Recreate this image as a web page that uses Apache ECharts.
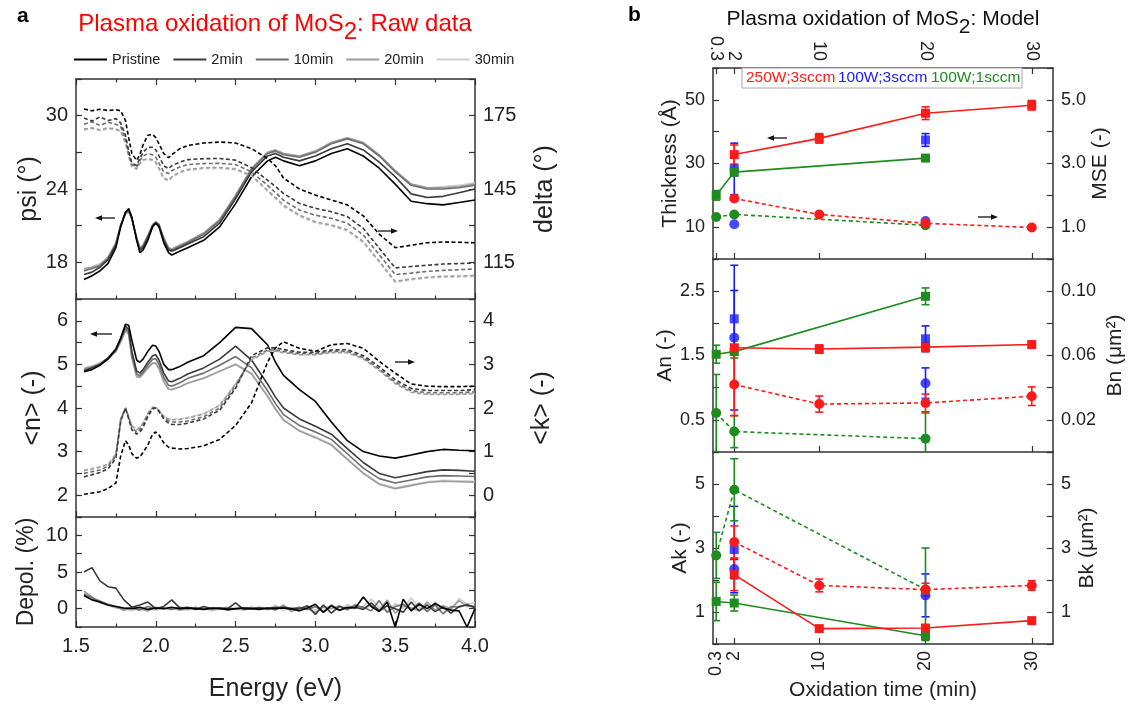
<!DOCTYPE html>
<html><head><meta charset="utf-8">
<script src="https://cdn.jsdelivr.net/npm/echarts@6/dist/echarts.min.js"></script>
<style>html,body{margin:0;padding:0;background:#fff}#c{width:1134px;height:709px}</style>
</head><body><div id="c"></div>
<script>
// ---------------- DATA: panel a (raw data) ----------------
const energy = [1.55,1.60,1.65,1.70,1.75,1.78,1.81,1.83,1.85,1.88,1.90,1.92,1.95,1.98,2.00,2.02,2.05,2.08,2.10,2.15,2.20,2.30,2.40,2.50,2.60,2.70,2.75,2.80,2.90,3.00,3.10,3.20,3.30,3.40,3.50,3.60,3.70,3.80,3.90,4.00];
const sampleNames = ['Pristine','2min','10min','20min','30min'];

const psiPristine = [16.6,16.9,17.3,17.9,19.2,20.9,22.1,22.4,21.7,19.8,18.8,19.0,19.8,20.9,21.2,20.9,19.6,18.8,18.6,18.9,19.2,19.8,20.9,22.8,25.0,26.3,26.6,26.3,25.9,26.3,26.9,27.3,26.7,25.7,24.4,23.0,22.8,22.7,22.9,23.1];
const psi2min = [17.0,17.2,17.6,18.2,19.4,21.0,22.1,22.3,21.6,19.9,19.0,19.2,20.0,21.0,21.2,21.0,19.8,19.0,18.9,19.2,19.5,20.1,21.2,23.2,25.4,26.7,26.9,26.6,26.3,26.7,27.3,27.7,27.2,26.2,25.0,23.6,23.3,23.4,23.7,24.0];
const psi10min = [17.3,17.5,17.7,18.3,19.5,21.0,22.0,22.2,21.6,20.0,19.1,19.3,20.1,21.0,21.3,21.1,19.9,19.1,19.0,19.3,19.6,20.3,21.4,23.4,25.6,26.9,27.1,26.8,26.6,27.0,27.7,28.1,27.7,26.7,25.4,24.3,24.0,24.0,24.1,24.3];
const psi20min = [17.5,17.6,17.8,18.4,19.6,21.1,22.0,22.2,21.5,20.0,19.2,19.4,20.2,21.1,21.3,21.1,20.0,19.2,19.1,19.4,19.7,20.4,21.5,23.5,25.7,27.0,27.2,26.9,26.7,27.1,27.8,28.2,27.8,26.8,25.5,24.4,24.1,24.1,24.2,24.4];
const psi30min = [17.4,17.6,17.9,18.4,19.6,21.0,21.9,22.1,21.5,20.1,19.2,19.4,20.2,21.0,21.2,21.0,20.0,19.2,19.1,19.4,19.7,20.4,21.5,23.4,25.6,26.9,27.2,26.9,26.7,27.1,27.8,28.2,27.8,26.8,25.5,24.4,24.1,24.2,24.3,24.5];

const deltaPristine = [177.7,177.0,177.6,177.1,177.4,177.0,173.0,166.0,159.5,156.7,159.0,163.0,167.0,167.3,166.0,163.5,159.5,157.8,159.0,161.5,162.8,163.8,164.2,163.8,161.5,157.5,154.5,149.5,145.0,142.5,140.5,138.5,134.0,126.5,121.0,122.0,123.0,123.3,123.2,123.0];
const delta2min = [174.0,172.8,174.5,173.0,173.8,172.0,167.0,160.5,155.5,154.7,157.5,160.0,162.0,162.1,161.0,158.5,154.5,153.3,154.5,156.0,157.0,157.4,157.5,156.8,153.7,148.6,146.0,143.2,139.1,137.1,135.7,133.7,128.9,120.8,112.7,113.3,113.8,114.3,114.5,114.7];
const delta10min = [171.5,172.5,171.0,172.3,171.5,170.5,165.5,159.5,155.0,154.0,156.5,158.5,159.4,159.0,158.0,155.5,152.0,151.3,152.5,154.0,155.0,155.4,155.5,155.0,152.0,146.5,143.5,140.4,136.4,134.3,133.0,131.0,126.2,118.1,110.0,110.6,111.3,111.7,112.0,112.3];
const delta20min = [169.5,170.0,169.2,170.0,169.5,168.8,164.0,158.5,154.3,153.3,155.5,157.0,157.4,157.0,156.0,153.5,149.5,148.6,150.0,152.0,153.0,153.7,153.8,153.2,150.6,144.5,141.5,138.4,134.3,131.6,130.3,128.3,123.5,115.4,107.2,108.2,108.9,109.3,109.4,109.6];
const delta30min = [169.0,169.8,168.8,169.6,169.0,168.5,163.6,158.2,154.0,153.0,155.2,156.7,157.0,156.6,155.6,153.1,149.0,148.2,149.6,151.6,152.6,153.3,153.4,152.8,150.2,144.0,141.0,137.9,133.8,131.1,129.8,127.8,123.0,115.0,106.8,107.8,108.5,108.9,109.0,109.2];

const nPristine = [4.83,4.88,4.98,5.12,5.35,5.6,5.92,5.9,5.55,5.1,5.05,5.12,5.3,5.44,5.42,5.3,5.0,4.88,4.88,4.95,5.05,5.2,5.5,5.85,5.82,5.45,5.05,4.75,4.42,4.15,3.68,3.25,3.0,2.9,2.85,2.92,3.0,3.05,3.03,3.02];
const n2min = [4.85,4.92,5.0,5.15,5.35,5.6,5.88,5.8,5.3,4.85,4.8,4.88,5.05,5.2,5.22,5.1,4.8,4.62,4.6,4.68,4.78,4.92,5.12,5.42,5.1,4.55,4.25,4.0,3.75,3.58,3.4,3.07,2.75,2.5,2.4,2.47,2.54,2.58,2.57,2.55];
const n10min = [4.87,4.93,5.0,5.13,5.32,5.55,5.82,5.75,5.22,4.78,4.74,4.82,4.98,5.12,5.13,5.0,4.7,4.52,4.5,4.58,4.68,4.8,4.98,5.18,4.92,4.4,4.1,3.85,3.6,3.45,3.28,2.95,2.62,2.38,2.28,2.35,2.42,2.45,2.44,2.43];
const n20min = [4.9,4.95,5.02,5.13,5.3,5.52,5.78,5.7,5.15,4.72,4.7,4.78,4.92,5.03,5.03,4.9,4.6,4.43,4.42,4.48,4.57,4.68,4.84,5.0,4.78,4.27,3.97,3.72,3.47,3.32,3.15,2.82,2.5,2.25,2.15,2.22,2.29,2.32,2.31,2.3];
const n30min = [4.92,4.96,5.03,5.14,5.3,5.5,5.76,5.68,5.14,4.72,4.7,4.78,4.91,5.02,5.02,4.9,4.61,4.44,4.43,4.49,4.58,4.69,4.85,5.01,4.8,4.29,3.99,3.74,3.49,3.34,3.17,2.84,2.52,2.27,2.17,2.24,2.31,2.34,2.33,2.32];

const kPristine = [0.02,0.05,0.08,0.15,0.28,0.9,1.25,1.15,0.95,0.85,0.88,0.98,1.15,1.4,1.45,1.38,1.2,1.1,1.08,1.06,1.07,1.13,1.28,1.6,2.12,3.05,3.38,3.52,3.37,3.3,3.45,3.48,3.37,3.07,2.8,2.55,2.5,2.49,2.49,2.5];
const k2min = [0.42,0.47,0.52,0.6,0.85,1.7,2.0,1.75,1.5,1.4,1.45,1.55,1.8,1.98,2.0,1.92,1.75,1.65,1.62,1.62,1.65,1.75,1.95,2.45,3.2,3.38,3.38,3.34,3.28,3.28,3.33,3.34,3.2,2.95,2.65,2.45,2.4,2.4,2.4,2.42];
const k10min = [0.5,0.54,0.58,0.66,0.9,1.72,2.0,1.78,1.55,1.45,1.5,1.6,1.84,2.0,2.0,1.93,1.78,1.7,1.68,1.68,1.7,1.8,2.0,2.5,3.15,3.33,3.33,3.3,3.25,3.25,3.3,3.3,3.16,2.9,2.6,2.4,2.35,2.35,2.35,2.37];
const k20min = [0.56,0.6,0.64,0.7,0.93,1.75,2.0,1.8,1.58,1.5,1.55,1.65,1.88,2.01,2.0,1.94,1.8,1.74,1.73,1.74,1.77,1.86,2.06,2.55,3.1,3.3,3.3,3.27,3.22,3.22,3.27,3.27,3.13,2.86,2.56,2.36,2.31,2.31,2.31,2.33];
const k30min = [0.58,0.62,0.66,0.72,0.95,1.76,2.0,1.81,1.6,1.52,1.56,1.66,1.89,2.02,2.01,1.95,1.81,1.75,1.74,1.75,1.78,1.87,2.07,2.56,3.11,3.31,3.31,3.28,3.23,3.23,3.28,3.28,3.14,2.87,2.57,2.37,2.32,2.32,2.32,2.34];

const energyDepol = [1.55,1.60,1.65,1.70,1.75,1.80,1.85,1.90,1.95,2.00,2.05,2.10,2.15,2.20,2.25,2.30,2.35,2.40,2.45,2.50,2.55,2.60,2.65,2.70,2.75,2.80,2.85,2.90,2.95,3.00,3.05,3.10,3.15,3.20,3.25,3.30,3.35,3.40,3.45,3.50,3.55,3.60,3.65,3.70,3.75,3.80,3.85,3.90,3.95,4.00];
const depolPristine = [1.8,1.2,0.9,0.5,0.3,0.1,0.0,0.2,-0.1,0.1,0.0,0.2,0.0,0.1,0.0,-0.1,0.1,0.0,-0.1,0.0,0.1,0.0,-0.1,0.1,0.0,0.1,0.0,-0.3,0.1,0.6,-0.5,0.4,-0.2,0.2,0.1,1.6,0.3,-0.4,0.9,-2.5,1.3,-0.3,0.6,0.0,0.7,0.1,-0.2,-0.3,-2.5,0.0];
const depol2min = [5.0,5.6,3.8,3.0,2.8,1.2,0.2,0.5,0.9,0.0,0.3,1.2,0.1,0.2,-0.1,0.3,0.0,0.1,0.0,0.8,-0.1,0.0,0.1,0.0,0.2,0.1,-0.1,0.0,0.4,-0.8,0.5,-0.6,0.3,0.0,0.2,-0.1,0.8,-0.3,0.4,0.0,-0.5,0.9,-0.3,0.5,-0.4,0.2,-0.6,0.3,0.5,0.2];
const depol10min = [2.0,1.5,1.0,0.6,0.3,0.0,0.1,-0.2,0.3,0.0,0.1,-0.1,0.2,0.0,0.1,-0.1,0.0,0.1,-0.2,0.0,0.1,0.0,0.2,-0.1,0.0,0.3,0.0,0.2,-0.1,0.3,-0.4,0.5,-0.2,0.1,0.4,0.2,-0.3,1.1,-0.5,0.3,0.6,-0.2,0.8,-0.4,0.5,-0.7,0.3,0.2,0.6,0.1];
const depol20min = [2.4,1.6,0.8,0.5,0.2,-0.2,0.2,0.0,-0.3,0.2,0.0,0.1,-0.2,0.0,0.2,0.0,-0.1,0.0,0.2,-0.1,0.0,0.2,0.0,0.1,-0.2,0.5,-0.4,0.1,0.0,-0.5,0.2,0.0,0.4,-0.2,0.6,0.0,0.5,-0.2,1.2,-0.6,0.4,0.1,-0.3,0.9,-0.2,0.4,0.0,1.1,0.3,0.4];
const depol30min = [2.2,1.4,1.1,0.4,0.1,0.0,-0.3,0.1,0.0,-0.2,0.1,0.0,0.1,-0.2,0.0,0.1,-0.3,0.0,0.1,0.0,-0.2,0.1,0.0,-0.1,0.5,-0.3,0.2,0.0,0.3,-0.2,0.4,0.1,-0.3,0.6,0.0,0.3,1.3,0.2,-0.4,0.7,0.0,1.5,0.2,-0.3,0.9,0.0,-0.2,1.4,0.6,0.8];

// tick labels panel a
const energyLabels = [1.5,2.0,2.5,3.0,3.5,4.0];
const psiLabels = [18,24,30];
const deltaLabels = [115,145,175];
const nLabels = [2,3,4,5,6];
const kLabels = [0,1,2,3,4];
const depolLabels = [0,5,10];

// ---------------- DATA: panel b (model) ----------------
const groupNames = ['250W;3sccm','100W;3sccm','100W;1sccm'];
const timeTicks = [0.3,2,10,20,30];
const timeRed = [2,10,20,30];
const timeBlue = [2,20];
const timeGreen = [0.3,2,20];

const thickRed = [32.8,37.9,45.8,48.3];   const thickRedErr = [3,1.5,2,1.5];
const thickBlue = [28.3,37.4];            const thickBlueErr = [8.1,2];
const thickGreen = [20.0,27.3,31.7];      const thickGreenErr = [1.5,1.2,0.5];
const mseRed = [1.9,1.40,1.12,0.99];
const mseBlue = [1.09,1.19];
const mseGreen = [1.32,1.40,1.06];

const anRed = [1.62,1.60,1.63,1.67];      const anRedErr = [0.04,0.065,0.07,0.05];
const anBlue = [2.07,1.76];               const anBlueErr = [0.44,0.2];
const anGreen = [1.52,1.56,2.42];         const anGreenErr = [0.14,0.1,0.13];
const bnRed = [0.042,0.0298,0.0305,0.0347]; const bnRedErr = [0.0195,0.005,0.0055,0.0058];
const bnBlue = [0.0711,0.0428];           const bnBlueErr = [0.045,0.0095];
const bnGreen = [0.0242,0.0127,0.0083];   const bnGreenErr = [0.024,0.01,0.016];

const akRed = [2.17,0.48,0.50,0.73];      const akRedErr = [0.5,0.05,0.05,0.05];
const akBlue = [2.95,0.3];                const akBlueErr = [1.35,0.1];
const akGreen = [1.33,1.28,0.26];         const akGreenErr = [0.6,0.25,0.15];
const bkRed = [3.19,1.83,1.70,1.83];      const bkRedErr = [0.5,0.2,0.2,0.15];
const bkBlue = [2.34,1.52];               const bkBlueErr = [0.3,0.67];
const bkGreen = [2.77,4.82,1.70];         const bkGreenErr = [0.72,0.97,1.3];

const thickLabels = [10,30,50];
const mseLabels = [1,3,5];
const anLabels = [0.5,1.5,2.5];
const bnLabels = [0.02,0.06,0.10];
const akLabels = [1,3,5];
const bkLabels = [1,3,5];

// ---------------- STYLE ----------------
const FONT = "'Liberation Sans', Arial, sans-serif";
const AX = '#333';
const TXT = '#222';
const sampleColors = ['#000000','#3a3a3a','#6e6e6e','#9c9c9c','#cfcfcf'];
const RED = '#ff1a1a', BLUE = '#1a1aff', GREEN = '#1e8c1e';

function pick(list, dec) {
  return v => list.some(t => Math.abs(t - v) < 1e-6) ? (dec != null ? Number(v).toFixed(dec) : String(Math.round(v * 1e6) / 1e6)) : '';
}
function baseAxis(grid) {
  return {
    type: 'value', gridIndex: grid, splitLine: { show: false },
    axisLine: { show: true, onZero: false, lineStyle: { color: AX, width: 1.5 } },
    axisTick: { show: true, inside: true, length: 6, lineStyle: { color: AX, width: 1.2 } }
  };
}
function xLeft(grid, pos, withLabels) {
  return Object.assign(baseAxis(grid), {
    position: pos, min: 1.5, max: 4.0, interval: 0.5,
    minorTick: { show: true, splitNumber: 2, length: 3.5, lineStyle: { color: AX, width: 1.2 } },
    axisLabel: withLabels ? { show: true, margin: 9, fontFamily: FONT, fontSize: 20, color: TXT, formatter: pick(energyLabels, 1) } : { show: false },
    name: withLabels ? 'Energy (eV)' : '', nameLocation: 'middle', nameGap: 50,
    nameTextStyle: { fontFamily: FONT, fontSize: 25, color: TXT }
  });
}
function xRight(grid, pos, withLabels) {
  return Object.assign(baseAxis(grid), {
    position: pos, min: 0, max: 32,
    axisTick: { show: true, inside: true, length: 6, customValues: timeTicks, lineStyle: { color: AX, width: 1.2 } },
    axisLabel: withLabels ? { show: true, customValues: timeTicks, rotate: 90, margin: 7, fontFamily: FONT, fontSize: 18, color: TXT, formatter: v => String(v) } : { show: false },
    name: (withLabels && pos === 'bottom') ? 'Oxidation time (min)' : '', nameLocation: 'middle', nameGap: 36,
    nameTextStyle: { fontFamily: FONT, fontSize: 21, color: TXT }
  });
}
function yAx(grid, pos, min, max, interval, labels, dec, name, gap, fs, nfs) {
  return Object.assign(baseAxis(grid), {
    position: pos, min, max, interval,
    name, nameLocation: 'middle', nameGap: gap, nameRotate: 90,
    nameTextStyle: { fontFamily: FONT, fontSize: nfs, color: TXT },
    axisLabel: labels ? { show: true, margin: 8, fontFamily: FONT, fontSize: fs, color: TXT, formatter: pick(labels, dec) } : { show: false }
  });
}

const grids = [
  { left: 76, top: 79, width: 399, height: 220 },
  { left: 76, top: 299, width: 399, height: 218 },
  { left: 76, top: 517, width: 399, height: 110 },
  { left: 713, top: 68, width: 340, height: 191 },
  { left: 713, top: 259, width: 340, height: 193 },
  { left: 713, top: 452, width: 340, height: 192 }
];
const xAxes = [
  xLeft(0, 'bottom', false), xLeft(0, 'top', false), xLeft(1, 'bottom', false), xLeft(2, 'bottom', true),
  xRight(3, 'bottom', false), xRight(3, 'top', true), xRight(4, 'bottom', false), xRight(5, 'bottom', true)
];
const yAxes = [
  yAx(0, 'left', 15, 33, 3, psiLabels, null, 'psi (°)', 31, 20, 25),
  yAx(0, 'right', 100, 190, 15, deltaLabels, null, 'delta (°)', 58, 20, 25),
  yAx(1, 'left', 1.5, 6.5, 0.5, nLabels, null, '<n> (-)', 30, 20, 25),
  yAx(1, 'right', -0.5, 4.5, 0.5, kLabels, null, '<k> (-)', 55, 20, 25),
  yAx(2, 'left', -2.5, 12.5, 2.5, depolLabels, null, 'Depol. (%)', 38, 20, 23),
  yAx(2, 'right', -2.5, 12.5, 2.5, null, null, '', 0, 20, 20),
  yAx(3, 'left', 0, 60, 10, thickLabels, null, 'Thickness (Å)', 30, 18, 21),
  yAx(3, 'right', 0, 6, 1, mseLabels, 1, 'MSE (-)', 36, 18, 21),
  yAx(4, 'left', 0, 3, 0.5, anLabels, 1, 'An (-)', 36, 18, 21),
  yAx(4, 'right', 0, 0.12, 0.02, bnLabels, 2, 'Bn (μm²)', 52, 18, 21),
  yAx(5, 'left', 0, 6, 1, akLabels, null, 'Ak (-)', 22, 18, 21),
  yAx(5, 'right', 0, 6, 1, bkLabels, null, 'Bk (μm²)', 24, 18, 21)
];

// ---------------- SERIES panel a ----------------
const series = [];
const sets = [
  { arrs: [psiPristine, psi2min, psi10min, psi20min, psi30min], x: energy, xi: 0, yi: 0, dash: false },
  { arrs: [deltaPristine, delta2min, delta10min, delta20min, delta30min], x: energy, xi: 0, yi: 1, dash: true },
  { arrs: [nPristine, n2min, n10min, n20min, n30min], x: energy, xi: 2, yi: 2, dash: false },
  { arrs: [kPristine, k2min, k10min, k20min, k30min], x: energy, xi: 2, yi: 3, dash: true },
  { arrs: [depolPristine, depol2min, depol10min, depol20min, depol30min], x: energyDepol, xi: 3, yi: 4, dash: false }
];
sets.forEach(s => {
  for (let j = 4; j >= 0; j--) {
    series.push({
      type: 'line', name: sampleNames[j], xAxisIndex: s.xi, yAxisIndex: s.yi,
      data: s.x.map((e, i) => [e, s.arrs[j][i]]),
      symbol: 'none', smooth: false, silent: true, animation: false,
      lineStyle: { color: sampleColors[j], width: 1.6, type: s.dash ? [4, 2.5] : 'solid' },
      itemStyle: { color: sampleColors[j] }
    });
  }
});

// ---------------- SERIES panel b ----------------
function errSeries(xs, ys, es, color, xi, yi) {
  return {
    type: 'custom', xAxisIndex: xi, yAxisIndex: yi, clip: true, silent: true, animation: false, z: 3,
    data: xs.map((x, i) => [x, ys[i] - es[i], ys[i] + es[i]]),
    encode: { x: 0, y: [1, 2] },
    renderItem: (params, api) => {
      const x = api.value(0);
      const lo = api.coord([x, api.value(1)]);
      const hi = api.coord([x, api.value(2)]);
      const w = 4, st = { stroke: color, lineWidth: 1.6 };
      return { type: 'group', children: [
        { type: 'line', shape: { x1: lo[0], y1: lo[1], x2: hi[0], y2: hi[1] }, style: st },
        { type: 'line', shape: { x1: lo[0] - w, y1: lo[1], x2: lo[0] + w, y2: lo[1] }, style: st },
        { type: 'line', shape: { x1: hi[0] - w, y1: hi[1], x2: hi[0] + w, y2: hi[1] }, style: st }
      ]};
    }
  };
}
function ptSeries(xs, ys, color, xi, yi, square, lineType) {
  return {
    type: lineType ? 'line' : 'scatter', xAxisIndex: xi, yAxisIndex: yi, silent: true, animation: false, z: 4,
    data: xs.map((x, i) => [x, ys[i]]),
    symbol: square ? 'rect' : 'circle', symbolSize: square ? 9 : 10, showSymbol: true,
    itemStyle: { color: color },
    lineStyle: lineType ? { color: color, width: 1.6, type: lineType === 'dash' ? [4, 3] : 'solid' } : undefined
  };
}
const groups = [
  { c: BLUE, t: timeBlue, line: false,
    th: thickBlue, thE: thickBlueErr, mse: mseBlue, an: anBlue, anE: anBlueErr, bn: bnBlue, bnE: bnBlueErr, ak: akBlue, akE: akBlueErr, bk: bkBlue, bkE: bkBlueErr },
  { c: GREEN, t: timeGreen, line: true,
    th: thickGreen, thE: thickGreenErr, mse: mseGreen, an: anGreen, anE: anGreenErr, bn: bnGreen, bnE: bnGreenErr, ak: akGreen, akE: akGreenErr, bk: bkGreen, bkE: bkGreenErr },
  { c: RED, t: timeRed, line: true,
    th: thickRed, thE: thickRedErr, mse: mseRed, an: anRed, anE: anRedErr, bn: bnRed, bnE: bnRedErr, ak: akRed, akE: akRedErr, bk: bkRed, bkE: bkRedErr }
];
groups.forEach(g => {
  series.push(ptSeries(g.t, g.th, g.c, 4, 6, true, g.line ? 'solid' : null));
  series.push(errSeries(g.t, g.th, g.thE, g.c, 4, 6));
  series.push(ptSeries(g.t, g.mse, g.c, 4, 7, false, g.line ? 'dash' : null));
  series.push(ptSeries(g.t, g.an, g.c, 6, 8, true, g.line ? 'solid' : null));
  series.push(errSeries(g.t, g.an, g.anE, g.c, 6, 8));
  series.push(ptSeries(g.t, g.bn, g.c, 6, 9, false, g.line ? 'dash' : null));
  series.push(errSeries(g.t, g.bn, g.bnE, g.c, 6, 9));
  series.push(ptSeries(g.t, g.ak, g.c, 7, 10, true, g.line ? 'solid' : null));
  series.push(errSeries(g.t, g.ak, g.akE, g.c, 7, 10));
  series.push(ptSeries(g.t, g.bk, g.c, 7, 11, false, g.line ? 'dash' : null));
  series.push(errSeries(g.t, g.bk, g.bkE, g.c, 7, 11));
});

// ---------------- GRAPHICS (titles, arrows, legend box) ----------------
function arrow(x1, x2, y) {
  const dir = x2 > x1 ? 1 : -1;
  return [
    { type: 'line', shape: { x1: x1, y1: y, x2: x2 - dir * 5, y2: y }, style: { stroke: '#111', lineWidth: 1.3 }, z: 50 },
    { type: 'polygon', shape: { points: [[x2, y], [x2 - dir * 7, y - 2.8], [x2 - dir * 7, y + 2.8]] }, style: { fill: '#111' }, z: 50 }
  ];
}
function richTitle(x, y, pre, sub, post, color, fs) {
  const base = { fontSize: fs, fontFamily: FONT, fill: color };
  return {
    type: 'text', x: x, y: y, z: 50,
    style: {
      text: '{n|' + pre + '}{s|' + sub + '}{n|' + post + '}',
      fill: color, fontSize: fs, fontFamily: FONT,
      align: 'center', textAlign: 'center', verticalAlign: 'middle', textVerticalAlign: 'middle',
      rich: {
        n: Object.assign({ verticalAlign: 'top', lineHeight: fs + 6 }, base),
        s: Object.assign({ verticalAlign: 'bottom', lineHeight: fs + 8 }, base)
      }
    }
  };
}
const graphics = [
  { type: 'text', x: 17, y: 16, z: 50, style: { text: 'a', fontSize: 21, fontWeight: 'bold', fontFamily: FONT, fill: '#000', verticalAlign: 'middle', textVerticalAlign: 'middle' } },
  { type: 'text', x: 628, y: 15, z: 50, style: { text: 'b', fontSize: 21, fontWeight: 'bold', fontFamily: FONT, fill: '#000', verticalAlign: 'middle', textVerticalAlign: 'middle' } },
  richTitle(275, 28, 'Plasma oxidation of MoS', '2', ': Raw data', '#ff0000', 24),
  richTitle(883, 23, 'Plasma oxidation of MoS', '2', ': Model', '#111', 21),
  { type: 'rect', shape: { x: 742, y: 68, width: 280, height: 20 }, style: { fill: '#fff', stroke: '#aaa', lineWidth: 1 }, z: 40 },
  { type: 'text', x: 746, y: 78, z: 50, style: { text: groupNames[0], fontSize: 15.5, fontFamily: FONT, fill: RED, verticalAlign: 'middle', textVerticalAlign: 'middle' } },
  { type: 'text', x: 838, y: 78, z: 50, style: { text: groupNames[1], fontSize: 15.5, fontFamily: FONT, fill: BLUE, verticalAlign: 'middle', textVerticalAlign: 'middle' } },
  { type: 'text', x: 931, y: 78, z: 50, style: { text: groupNames[2], fontSize: 15.5, fontFamily: FONT, fill: GREEN, verticalAlign: 'middle', textVerticalAlign: 'middle' } }
].concat(arrow(115, 95, 218), arrow(378, 398, 231), arrow(112, 90, 334), arrow(395, 415, 362), arrow(787, 767, 138), arrow(978, 998, 217));

const chart = echarts.init(document.getElementById('c'), null, { renderer: 'canvas' });
chart.setOption({
  backgroundColor: '#fff',
  animation: false,
  grid: grids,
  xAxis: xAxes,
  yAxis: yAxes,
  legend: {
    data: sampleNames, left: 69, top: 47, icon: 'rect', itemWidth: 33, itemHeight: 2, itemGap: 13,
    textStyle: { fontFamily: FONT, fontSize: 14.5, color: TXT }, selectedMode: false
  },
  series: series,
  graphic: graphics
});
</script></body></html>
